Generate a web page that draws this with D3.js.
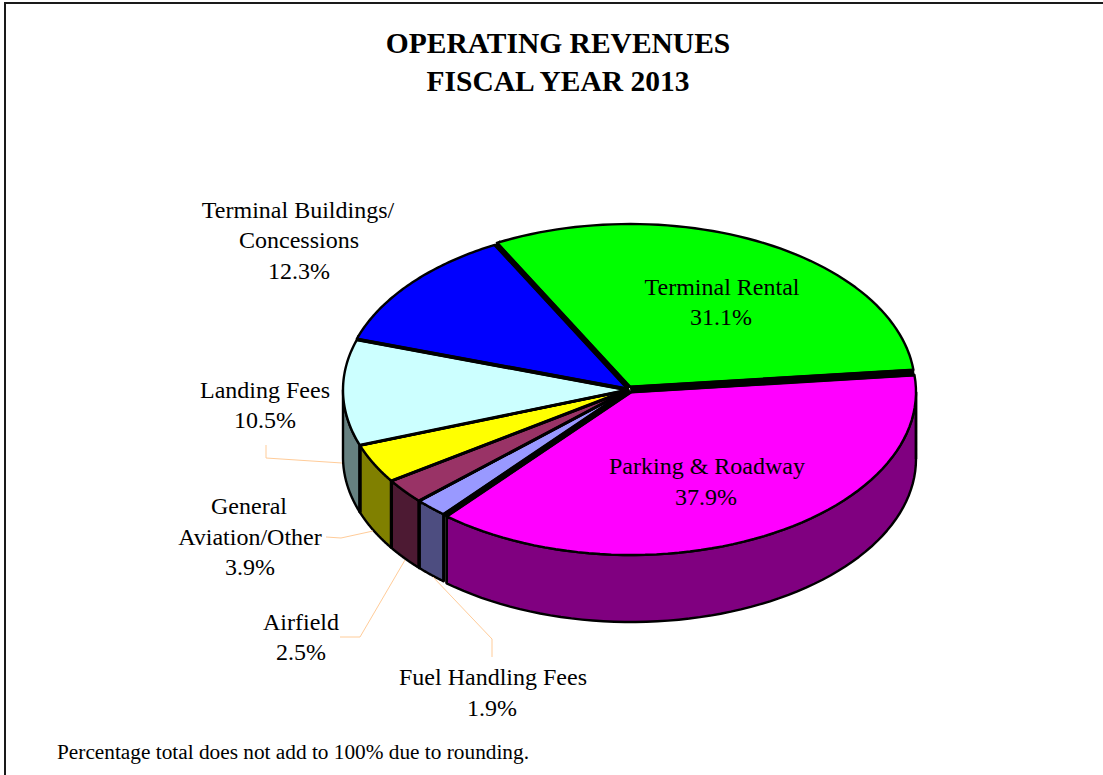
<!DOCTYPE html>
<html><head><meta charset="utf-8">
<script src="https://cdn.jsdelivr.net/npm/d3@7/dist/d3.min.js"></script>
<style>html,body{margin:0;padding:0;background:#fff}svg{display:block}text{font-family:"Liberation Serif",serif;fill:#000}</style>
</head><body><svg id="c" width="1103" height="775"></svg>
<script>
const categories=["Parking & Roadway","Fuel Handling Fees","Airfield","General Aviation/Other","Landing Fees","Terminal Buildings/Concessions","Terminal Rental"];
const values=[37.9,1.9,2.5,3.9,10.5,12.3,31.1];
const topColors=["#ff00ff","#9999ff","#993366","#ffff00","#ccffff","#0000ff","#00ff00"];
const sideColors=["#800080","#4d4d80","#4d1a33","#808000","#668080","#000080","#008000"];
const titleLines=["OPERATING REVENUES","FISCAL YEAR 2013"];
const footnote="Percentage total does not add to 100% due to rounding.";

const W=1103,H=775,cx=628,cy=390,rx=285,ry=163,depth=67;
const explode=[[3,2],[0,0],[0,0],[0,0],[0,0],[0,-1],[2,-3]];
const rad=d=>d*Math.PI/180;
const svg=d3.select("#c");
svg.append("rect").attr("x",5).attr("y",3).attr("width",W).attr("height",H).attr("fill","#fff").attr("stroke","#1a1a1a").attr("stroke-width",2);

const slices=d3.pie().sort(null).value(d=>d).startAngle(rad(84)).endAngle(rad(444))(values);
slices.forEach((s,i)=>{s.dx=explode[i][0];s.dy=explode[i][1];s.i=i;});
const sx=d3.scaleLinear().domain([-1,1]).range([-rx,rx]);
const sy=d3.scaleLinear().domain([-1,1]).range([ry,-ry]);
const pt=(s,a,dz=0)=>[cx+s.dx+sx(Math.sin(a)),cy+s.dy+sy(Math.cos(a))+dz];
const arcPts=(s,a0,a1,dz=0)=>d3.range(0,61).map(k=>pt(s,a0+(a1-a0)*k/60,dz));
const line=d3.line();

const wallOf=s=>{
  const lo=Math.max(s.startAngle,rad(90)),hi=Math.min(s.endAngle,rad(270));
  return hi>lo?[lo,hi]:null;
};
const walls=svg.append("g");
slices.forEach(s=>{
  const w=wallOf(s); if(!w) return;
  const pts=arcPts(s,w[0],w[1]).concat(arcPts(s,w[1],w[0],depth));
  walls.append("path").attr("d",line(pts)+"Z").attr("fill",sideColors[s.i]).attr("stroke","#000").attr("stroke-width",2.4).attr("stroke-linejoin","round");
});
slices.forEach(s=>{
  const w=wallOf(s); if(!w) return;
  w.forEach(a=>{ if(a>=rad(270)-1e-6) return;
    walls.append("path").attr("d",line([pt(s,a),pt(s,a,depth)])).attr("stroke","#000").attr("stroke-width",s.i===0?2.5:3).attr("fill","none");
  });
});
const tops=svg.append("g");
// wide dark seams first, so offset slices leave no pale gap
slices.forEach(s=>{
  const c=[cx+s.dx,cy+s.dy];
  [s.startAngle,s.endAngle].forEach(a=>tops.append("path").attr("d",line([c,pt(s,a)])).attr("stroke","#000").attr("stroke-width",8).attr("fill","none"));
});
slices.slice(1).concat(slices[0]).forEach(s=>{
  const c=[cx+s.dx,cy+s.dy];
  const pts=[c].concat(arcPts(s,s.startAngle,s.endAngle));
  tops.append("path").attr("d",line(pts)+"Z").attr("fill",topColors[s.i]).attr("stroke","#000").attr("stroke-width",2.4).attr("stroke-linejoin","round");
  [s.startAngle,s.endAngle].forEach(a=>tops.append("path").attr("d",line([c,pt(s,a)])).attr("stroke","#000").attr("stroke-width",3).attr("fill","none"));
});

const leaders=[
 [[266,445],[266,458],[342,463]],
 [[326,537],[341,538],[373,531]],
 [[340,637],[360,637],[405,560]],
 [[492,657],[492,639],[433,577]]
];
svg.append("g").selectAll("path").data(leaders).join("path").attr("d",d=>line(d)).attr("fill","none").attr("stroke","#ffcc99").attr("stroke-width",1);

const labels=[
 ["Terminal Buildings/",298,218],["Concessions",299,248],["12.3%",299,279],
 ["Terminal Rental",722,295],["31.1%",721,325],
 ["Parking & Roadway",707,474],["37.9%",706,505],
 ["Landing Fees",265,398],["10.5%",265,428],
 ["General",249,514],["Aviation/Other",250,545],["3.9%",250,575],
 ["Airfield",301,630],["2.5%",301,660],
 ["Fuel Handling Fees",493,685],["1.9%",492,716]
];
svg.append("g").selectAll("text").data(labels).join("text").attr("x",d=>d[1]).attr("y",d=>d[2]).attr("text-anchor","middle").attr("font-size",24).text(d=>d[0]);
svg.append("g").selectAll("text").data(titleLines).join("text").attr("x",558).attr("y",(d,i)=>53+38*i).attr("text-anchor","middle").attr("font-size",29.5).attr("font-weight","bold").text(d=>d);
svg.append("text").attr("x",57).attr("y",759).attr("font-size",21.3).text(footnote);
</script></body></html>
